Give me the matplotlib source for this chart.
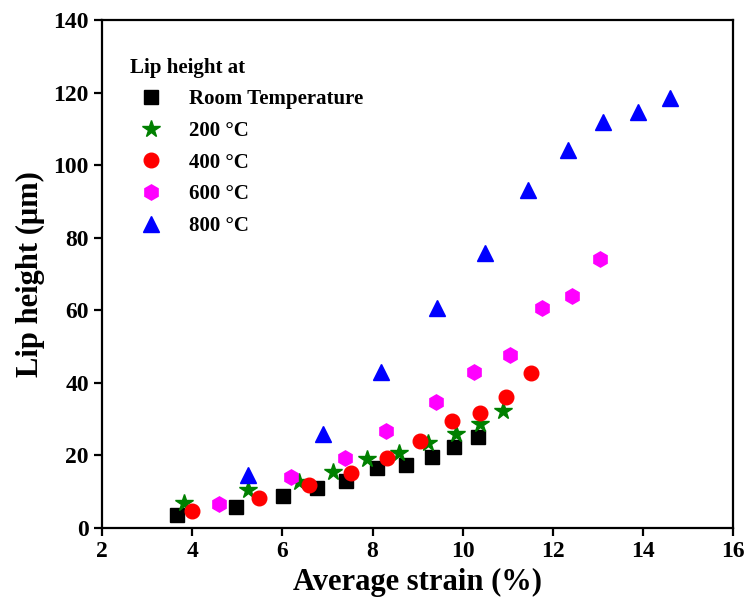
import matplotlib
matplotlib.use("Agg")
import matplotlib.pyplot as plt

plt.rcParams["font.family"] = ["Liberation Serif", "DejaVu Serif"]
plt.rcParams["font.weight"] = "bold"

# Room temperature
rt_x = [3.66, 4.97, 6.02, 6.77, 7.41, 8.10, 8.75, 9.32, 9.81, 10.34]
rt_y = [3.6, 5.8, 8.8, 11.0, 12.9, 16.5, 17.4, 19.6, 22.3, 25.1]

# 200 C
t200_x = [3.82, 5.24, 6.37, 7.13, 7.88, 8.59, 9.23, 9.85, 10.39, 10.90]
t200_y = [6.9, 10.5, 12.7, 15.4, 19.0, 20.7, 23.4, 25.9, 28.6, 32.2]

# 400 C
t400_x = [3.99, 5.48, 6.59, 7.52, 8.32, 9.06, 9.76, 10.39, 10.96, 11.52]
t400_y = [4.7, 8.3, 11.8, 15.2, 19.2, 23.8, 29.5, 31.6, 36.0, 42.8]

# 600 C
t600_x = [4.60, 6.19, 7.39, 8.30, 9.41, 10.25, 11.05, 11.76, 12.42, 13.05]
t600_y = [6.6, 14.1, 19.2, 26.7, 34.8, 42.9, 47.7, 60.7, 63.9, 74.1]

# 800 C
t800_x = [5.23, 6.90, 8.19, 9.43, 10.50, 11.46, 12.33, 13.12, 13.88, 14.60]
t800_y = [14.5, 26.0, 43.0, 60.5, 75.7, 93.1, 104.1, 111.9, 114.7, 118.4]

fig = plt.figure(figsize=(7.45, 6.06), dpi=100)
ax = fig.add_axes([0.137, 0.129, 0.847, 0.838])

ax.plot(rt_x, rt_y, "s", color="black", ms=10, label="Room Temperature")
ax.plot(t200_x, t200_y, "*", color="#008000", ms=13, label="200 \u00b0C")
ax.plot(t400_x, t400_y, "o", color="#ff0000", ms=10.5, label="400 \u00b0C")
ax.plot(t600_x, t600_y, "h", color="#ff00ff", ms=11, label="600 \u00b0C")
ax.plot(t800_x, t800_y, "^", color="#0000ff", ms=12, label="800 \u00b0C")

ax.set_xlim(2, 16)
ax.set_ylim(0, 140)
ax.set_xticks(range(2, 17, 2))
ax.set_yticks(range(0, 141, 20))

for side in ["left", "right", "top", "bottom"]:
    ax.spines[side].set_linewidth(1.6)
ax.tick_params(direction="out", length=6, width=1.6, labelsize=17)

ax.set_xlabel("Average strain (%)", fontsize=22, fontweight="bold", labelpad=4)
ax.set_ylabel("Lip height (\u03bcm)", fontsize=22, fontweight="bold", labelpad=6)

leg = ax.legend(loc="upper left", bbox_to_anchor=(0.012, 0.967), frameon=False,
                title="Lip height at", fontsize=15,
                title_fontproperties={"size": 15, "weight": "bold"},
                alignment="left", handletextpad=0.8, labelspacing=0.56,
                borderaxespad=0.6, numpoints=1)

fig.savefig("out.png", dpi=100)
